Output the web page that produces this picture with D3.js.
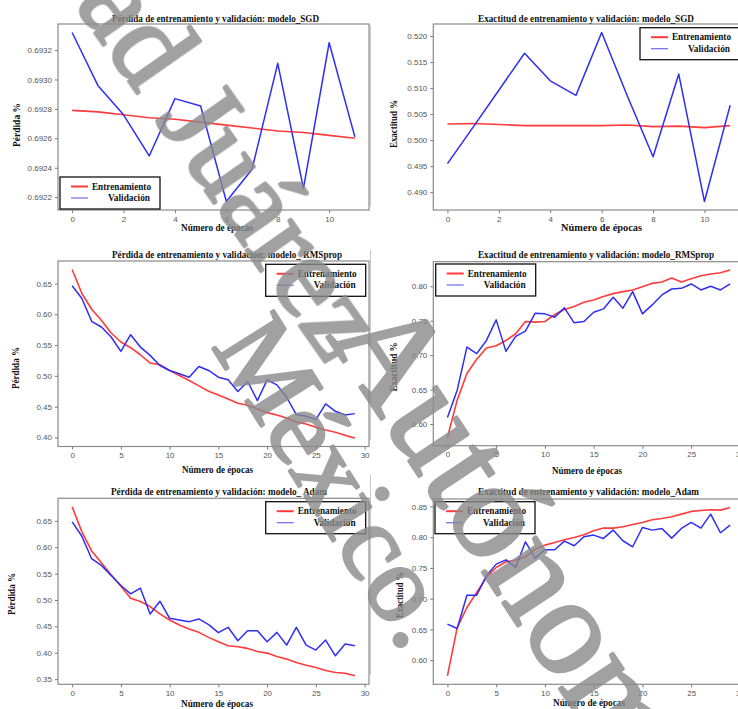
<!DOCTYPE html>
<html>
<head>
<meta charset="utf-8">
<script src="https://cdn.jsdelivr.net/npm/d3@7"></script>
<style>
  body { margin: 0; background: #fff; }
  svg { display: block; }
  .tick text { font-family: "Liberation Sans", Arial, sans-serif; font-size: 8px; fill: #555; }
  .tick line { stroke: #777; }
  .serif { font-family: "Liberation Serif", "Times New Roman", serif; font-weight: bold; fill: #111; }
</style>
</head>
<body>
<div id="chart"></div>
<script>
// epochs
const epocas12 = [0, 1, 2, 3, 4, 5, 6, 7, 8, 9, 10, 11];
const epocas30 = [0, 1, 2, 3, 4, 5, 6, 7, 8, 9, 10, 11, 12, 13, 14, 15, 16, 17, 18, 19, 20, 21, 22, 23, 24, 25, 26, 27, 28, 29];

// modelo_SGD
const sgdLossTrain = [0.69279, 0.69278, 0.69276, 0.69274, 0.69273, 0.69271, 0.69269, 0.69267, 0.69265, 0.69264, 0.69262, 0.69260];
const sgdLossVal = [0.69332, 0.69296, 0.69276, 0.69248, 0.69287, 0.69282, 0.69217, 0.69239, 0.69311, 0.69226, 0.69325, 0.69261];
const sgdAccTrain = [0.5031, 0.5032, 0.5030, 0.5028, 0.5028, 0.5028, 0.5028, 0.5029, 0.5026, 0.5027, 0.5024, 0.5028];
const sgdAccVal = [0.4955, 0.5025, 0.5096, 0.5167, 0.5114, 0.5086, 0.5207, 0.5085, 0.4968, 0.5127, 0.4882, 0.5067];

// modelo_RMSprop
const rmsLossTrain = [0.6728, 0.6337, 0.6082, 0.5902, 0.5696, 0.5549, 0.5457, 0.5342, 0.5207, 0.5179, 0.5087, 0.5005, 0.4924, 0.4837, 0.4750, 0.4690, 0.4625, 0.4554, 0.4522, 0.4462, 0.4402, 0.4364, 0.4315, 0.4245, 0.4217, 0.4163, 0.4120, 0.4082, 0.4033, 0.3989];
const rmsLossVal = [0.6462, 0.6255, 0.5886, 0.5793, 0.5630, 0.5397, 0.5668, 0.5467, 0.5332, 0.5168, 0.5087, 0.5033, 0.4978, 0.5152, 0.5087, 0.4978, 0.4935, 0.4745, 0.4908, 0.4598, 0.4935, 0.4853, 0.4652, 0.4370, 0.4342, 0.4288, 0.4543, 0.4424, 0.4364, 0.4386];
const rmsAccTrain = [0.5807, 0.6347, 0.6733, 0.6940, 0.7104, 0.7137, 0.7214, 0.7311, 0.7489, 0.7480, 0.7489, 0.7590, 0.7663, 0.7706, 0.7769, 0.7802, 0.7851, 0.7894, 0.7923, 0.7947, 0.7995, 0.8043, 0.8063, 0.8120, 0.8063, 0.8111, 0.8154, 0.8178, 0.8198, 0.8236];
const rmsAccVal = [0.6096, 0.6492, 0.7118, 0.7022, 0.7214, 0.7513, 0.7055, 0.7272, 0.7349, 0.7610, 0.7600, 0.7552, 0.7687, 0.7470, 0.7489, 0.7624, 0.7672, 0.7841, 0.7682, 0.7923, 0.7600, 0.7730, 0.7875, 0.7961, 0.7971, 0.8034, 0.7947, 0.8000, 0.7947, 0.8034];

// modelo_Adam
const adamLossTrain = [0.6767, 0.6291, 0.5929, 0.5707, 0.5478, 0.5263, 0.5034, 0.4971, 0.4876, 0.4736, 0.4622, 0.4527, 0.4450, 0.4387, 0.4292, 0.4209, 0.4133, 0.4114, 0.4083, 0.4025, 0.3994, 0.3930, 0.3880, 0.3816, 0.3765, 0.3721, 0.3664, 0.3626, 0.3613, 0.3563];
const adamLossVal = [0.6481, 0.6208, 0.5783, 0.5656, 0.5466, 0.5275, 0.5117, 0.5224, 0.4736, 0.4977, 0.4654, 0.4622, 0.4590, 0.4641, 0.4533, 0.4381, 0.4483, 0.4228, 0.4419, 0.4419, 0.4209, 0.4387, 0.4146, 0.4483, 0.4146, 0.4051, 0.4241, 0.3943, 0.4165, 0.4134];
const adamAccTrain = [0.5745, 0.6531, 0.6857, 0.7101, 0.7345, 0.7508, 0.7600, 0.7627, 0.7681, 0.7806, 0.7871, 0.7915, 0.7958, 0.7996, 0.8039, 0.8104, 0.8148, 0.8148, 0.8169, 0.8207, 0.8240, 0.8283, 0.8305, 0.8332, 0.8375, 0.8419, 0.8435, 0.8446, 0.8440, 0.8484];
const adamAccVal = [0.6586, 0.6515, 0.7057, 0.7057, 0.7372, 0.7562, 0.7632, 0.7508, 0.7925, 0.7659, 0.7795, 0.7795, 0.7936, 0.7860, 0.8006, 0.8034, 0.7980, 0.8115, 0.7942, 0.7844, 0.8158, 0.8115, 0.8142, 0.7985, 0.8142, 0.8240, 0.8148, 0.8375, 0.8072, 0.8197];

// tick labels
const xTicks12 = [0, 2, 4, 6, 8, 10];
const xTicks30 = [0, 5, 10, 15, 20, 25, 30];
const yTicksSgdLoss = [0.6922, 0.6924, 0.6926, 0.6928, 0.6930, 0.6932];
const yTicksSgdAcc = [0.490, 0.495, 0.500, 0.505, 0.510, 0.515, 0.520];
const yTicksRmsLoss = [0.40, 0.45, 0.50, 0.55, 0.60, 0.65];
const yTicksRmsAcc = [0.60, 0.65, 0.70, 0.75, 0.80];
const yTicksAdamLoss = [0.35, 0.40, 0.45, 0.50, 0.55, 0.60, 0.65];
const yTicksAdamAcc = [0.60, 0.65, 0.70, 0.75, 0.80, 0.85];

// texts
const titulos = [
  "Pérdida de entrenamiento y validación: modelo_SGD",
  "Exactitud de entrenamiento y validación: modelo_SGD",
  "Pérdida de entrenamiento y validación: modelo_ RMSprop",
  "Exactitud de entrenamiento y validación: modelo_RMSprop",
  "Pérdida de entrenamiento y validación: modelo_ Adam",
  "Exactitud de entrenamiento y validación: modelo_Adam"
];
const etiquetaX = "Número de épocas";
const etiquetaPerdida = "Pérdida %";
const etiquetaExactitud = "Exactitud %";
const leyenda = ["Entrenamiento", "Validación"];
const marcaAgua = ["ad Juárez", "Autónoma de Tabasco", "México."];

const width = 738, height = 709;
const colorTrain = "#ff3b3b", colorVal = "#2e2ef5";

// layout of each panel (frame, title, labels, legend)
const panels = [
  { epochs: epocas12, train: sgdLossTrain, val: sgdLossVal, xTicks: xTicks12, yTicks: yTicksSgdLoss, yFmt: ".4f",
    left: 58, top: 24, w: 311, h: 186, title: [112, 22, 207], xl: [181, 231, 72], yl: etiquetaPerdida, ylp: [16, 125, 44], leg: [60, 177] },
  { epochs: epocas12, train: sgdAccTrain, val: sgdAccVal, xTicks: xTicks12, yTicks: yTicksSgdAcc, yFmt: ".3f",
    left: 433.3, top: 24, w: 311, h: 186, title: [478, 22, 216], xl: [561, 231, 81], yl: etiquetaExactitud, ylp: [393.5, 124, 48], leg: [640, 27.7] },
  { epochs: epocas30, train: rmsLossTrain, val: rmsLossVal, xTicks: xTicks30, yTicks: yTicksRmsLoss, yFmt: ".2f",
    left: 58, top: 261, w: 311, h: 185.5, title: [112, 258, 230], xl: [182, 473, 71], yl: etiquetaPerdida, ylp: [15, 368, 42], leg: [265.7, 264.3] },
  { epochs: epocas30, train: rmsAccTrain, val: rmsAccVal, xTicks: xTicks30, yTicks: yTicksRmsAcc, yFmt: ".2f",
    left: 433.3, top: 261.7, w: 311, h: 184, title: [478, 258, 236], xl: [552, 474, 70], yl: etiquetaExactitud, ylp: [393, 367, 49], leg: [435.7, 264] },
  { epochs: epocas30, train: adamLossTrain, val: adamLossVal, xTicks: xTicks30, yTicks: yTicksAdamLoss, yFmt: ".2f",
    left: 58, top: 498.3, w: 311, h: 186, title: [111, 495, 216], xl: [181, 707, 72], yl: etiquetaPerdida, ylp: [11, 594, 42], leg: [265.7, 501.7] },
  { epochs: epocas30, train: adamAccTrain, val: adamAccVal, xTicks: xTicks30, yTicks: yTicksAdamAcc, yFmt: ".2f",
    left: 433.3, top: 499, w: 311, h: 185.3, title: [478, 495, 221], xl: [553, 706, 72], yl: etiquetaExactitud, ylp: [399.5, 595, 46], leg: [435, 501.7] }
];

const svg = d3.select("#chart")
  .append("svg")
    .attr("width", width)
    .attr("height", height);

svg.append("rect").attr("width", width).attr("height", height).attr("fill", "#fff");

// thin border of the right-hand images
[[25, 207], [250, 440], [475, 675]].forEach(([y0, y1]) => {
  svg.append("line")
    .attr("x1", 370.5).attr("x2", 370.5).attr("y1", y0).attr("y2", y1)
    .attr("stroke", "#c8c8c8").attr("stroke-width", 1);
});

function fittedText(g, txt, x, y, len) {
  return g.append("text")
    .attr("class", "serif")
    .attr("x", x).attr("y", y)
    .attr("font-size", 9.5)
    .attr("textLength", len)
    .attr("lengthAdjust", "spacingAndGlyphs")
    .text(txt);
}

panels.forEach((p, k) => {
  const g = svg.append("g");
  const last = p.epochs[p.epochs.length - 1];

  // scales (matplotlib style 5% margins)
  const xScale = d3.scaleLinear()
    .domain([-0.05 * last, last * 1.05])
    .range([p.left, p.left + p.w]);

  const [lo, hi] = d3.extent(p.train.concat(p.val));
  const pad = (hi - lo) * 0.05;
  const yScale = d3.scaleLinear()
    .domain([lo - pad, hi + pad])
    .range([p.top + p.h, p.top]);

  // axes
  const xAxis = g.append("g")
    .attr("transform", `translate(0,${p.top + p.h})`)
    .call(d3.axisBottom(xScale).tickValues(p.xTicks).tickSize(3).tickPadding(3).tickFormat(d3.format("d")));
  xAxis.select(".domain").remove();

  const yAxis = g.append("g")
    .attr("transform", `translate(${p.left},0)`)
    .call(d3.axisLeft(yScale).tickValues(p.yTicks).tickSize(3).tickPadding(3).tickFormat(d3.format(p.yFmt)));
  yAxis.select(".domain").remove();

  // frame
  g.append("rect")
    .attr("x", p.left).attr("y", p.top)
    .attr("width", p.w).attr("height", p.h)
    .attr("fill", "none")
    .attr("stroke", "#8a8a8a")
    .attr("stroke-width", 1.2);

  // lines
  const lineGenerator = d3.line()
    .x((d, i) => xScale(p.epochs[i]))
    .y(d => yScale(d));

  g.append("path")
    .attr("d", lineGenerator(p.train))
    .attr("fill", "none")
    .attr("stroke", colorTrain)
    .attr("stroke-width", 1.6)
    .attr("stroke-linejoin", "round");

  g.append("path")
    .attr("d", lineGenerator(p.val))
    .attr("fill", "none")
    .attr("stroke", colorVal)
    .attr("stroke-width", 1.5)
    .attr("stroke-linejoin", "round");

  // title and axis labels
  fittedText(g, titulos[k], p.title[0], p.title[1], p.title[2]);
  fittedText(g, etiquetaX, p.xl[0], p.xl[1], p.xl[2]);
  fittedText(g, p.yl, 0, 0, p.ylp[2])
    .attr("transform", `translate(${p.ylp[0] + 3.5},${p.ylp[1] + p.ylp[2] / 2}) rotate(-90)`);

  // legend
  const [lx, ly] = p.leg;
  const legend = g.append("g");
  legend.append("rect")
    .attr("x", lx).attr("y", ly)
    .attr("width", 100).attr("height", 32)
    .attr("fill", "#fff")
    .attr("stroke", "#111")
    .attr("stroke-width", 1.3);
  legend.append("line")
    .attr("x1", lx + 11).attr("x2", lx + 28).attr("y1", ly + 9.5).attr("y2", ly + 9.5)
    .attr("stroke", colorTrain).attr("stroke-width", 2);
  legend.append("line")
    .attr("x1", lx + 11).attr("x2", lx + 28).attr("y1", ly + 21).attr("y2", ly + 21)
    .attr("stroke", colorVal).attr("stroke-width", 1.2).attr("opacity", 0.7);
  fittedText(legend, leyenda[0], lx + 32, ly + 12.5, 59);
  fittedText(legend, leyenda[1], lx + 48, ly + 24, 42);
});

// watermark
const marca = svg.append("g")
  .attr("fill", "#8a8a8a")
  .attr("stroke", "#8a8a8a")
  .attr("stroke-width", 3)
  .attr("stroke-linejoin", "round")
  .attr("opacity", 0.8)
  .style("font-family", "'Liberation Serif', 'Times New Roman', serif");

marca.append("text")
  .attr("transform", "translate(74,4) rotate(55)")
  .attr("font-size", 118)
  .text(marcaAgua[0]);

marca.append("text")
  .attr("transform", "translate(326,336) rotate(56.5)")
  .attr("font-size", 140)
  .text(marcaAgua[1]);

marca.append("text")
  .attr("transform", "translate(211,346) rotate(58)")
  .attr("font-size", 110)
  .text(marcaAgua[2]);
</script>
</body>
</html>
